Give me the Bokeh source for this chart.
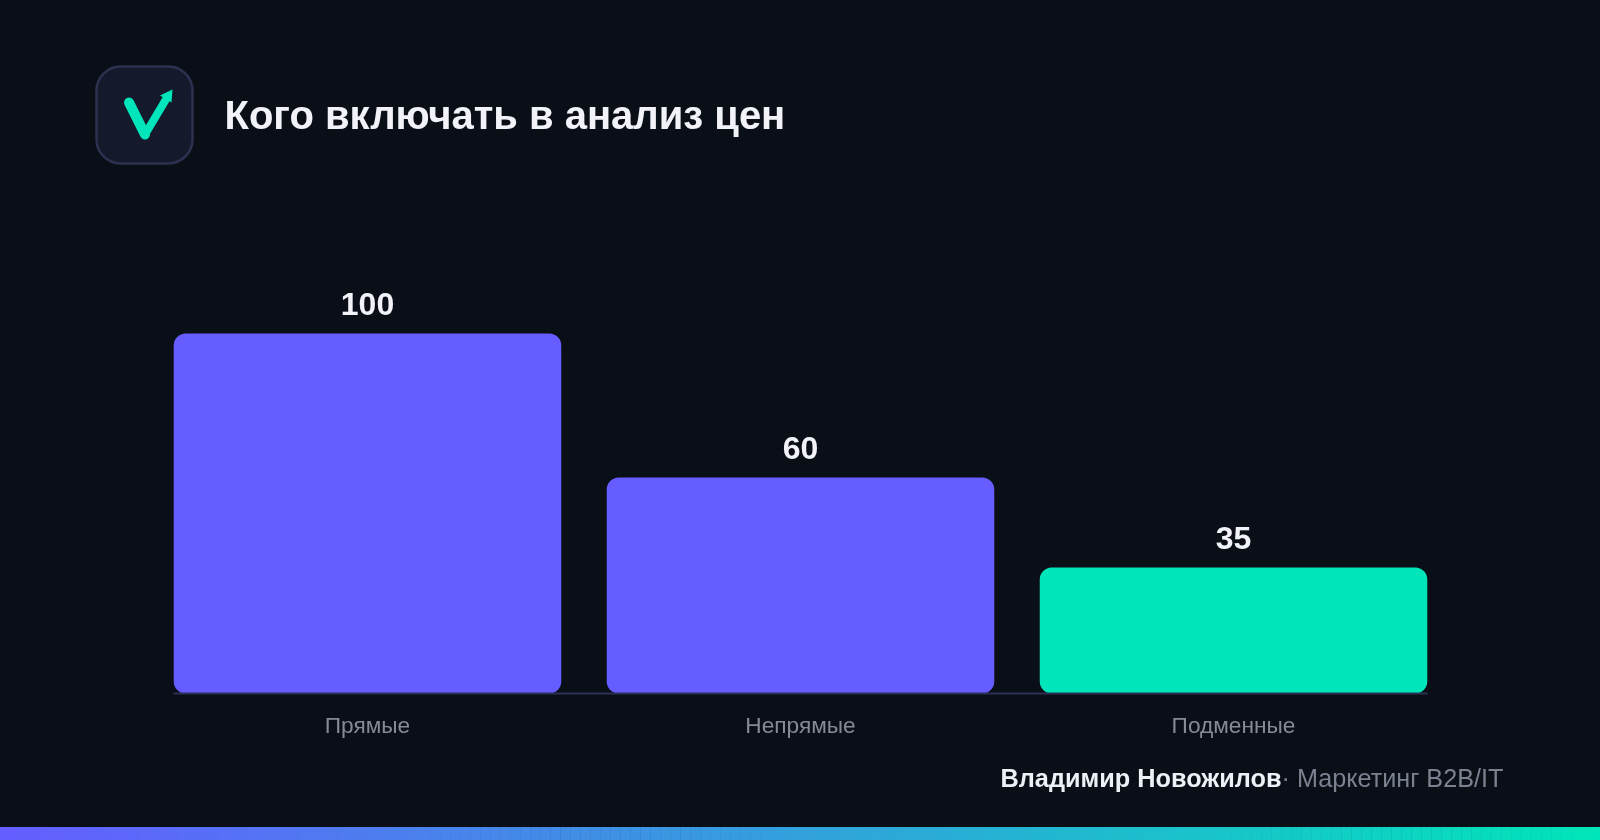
from bokeh.plotting import figure
from bokeh.models import ColumnDataSource, FixedTicker, Range1d
from bokeh.core.properties import value
from bokeh.embed import file_html
from bokeh.resources import INLINE

categories = ["Прямые", "Непрямые", "Подменные"]
values = [100, 60, 35]
bar_colors = ["#655DFF", "#655DFF", "#00E5B9"]
title_text = "Кого включать в анализ цен"
author = "Владимир Новожилов"
role = "· Маркетинг B2B/IT"

BG = "#0A0E17"
FONT = "Liberation Sans"
W, H = 1600, 840
PAD = 1  # the canvas overhangs the window by this much on every side
LEFT, RIGHT, BASE = 173, 1427, 693
positions = list(range(len(categories)))
PX_X = (RIGHT - LEFT) / 2.896   # pixels per category step
PX_Y = 3.6                      # pixels per value unit

p = figure(width=W + 2 * PAD, height=H + 2 * PAD,
           x_range=Range1d(-0.448 - (LEFT + PAD) / PX_X, 2.448 + (W - RIGHT + PAD) / PX_X),
           y_range=Range1d(-(H - BASE + PAD) / PX_Y, (BASE + PAD) / PX_Y),
           output_backend="svg", toolbar_location=None,
           min_border=0, min_border_left=0, min_border_right=0, min_border_top=0, min_border_bottom=0)
p.extra_x_ranges["px"] = Range1d(-PAD, W + PAD)
p.extra_y_ranges["px"] = Range1d(H + PAD, -PAD)
p.styles = {"position": "fixed", "left": f"{-PAD}px", "top": f"{-PAD}px"}
p.background_fill_color = BG
p.border_fill_color = BG
p.outline_line_color = None
p.xgrid.visible = False
p.ygrid.visible = False
p.yaxis.visible = False

ax = p.xaxis[0]
ax.fixed_location = 0
ax.bounds = (-0.448, 2.448)
ax.ticker = FixedTicker(ticks=positions)
ax.major_label_overrides = dict(zip(positions, categories))
ax.axis_line_color = "#2C3155"
ax.axis_line_width = 2
ax.major_tick_line_color = None
ax.minor_tick_line_color = None
ax.major_label_text_color = "#858A97"
ax.major_label_text_font = FONT
ax.major_label_text_font_size = "22.7px"
ax.major_label_standoff = 12

src = ColumnDataSource(dict(pos=positions, val=values, color=bar_colors, lab=[str(v) for v in values]))
p.vbar(x="pos", top="val", bottom=0, width=0.895, source=src, fill_color="color",
       line_color=None, border_radius=12)
p.text(x="pos", y="val", text="lab", source=src, text_align="center", text_baseline="alphabetic",
       y_offset=-30, text_color="#F1F3F9", text_font=value(FONT), text_font_style="bold",
       text_font_size="32px")


def lab(x, y, text, size, color, bold=False):
    p.text(x=[x], y=[y], text=[text], x_range_name="px", y_range_name="px",
           text_font=value(FONT), text_font_size=size, text_color=color,
           text_font_style="bold" if bold else "normal",
           text_align="left", text_baseline="middle")


lab(224, 114, title_text, "40px", "#F1F3F9", bold=True)
lab(1000, 777, author, "25.3px", "#EEF0F7", bold=True)
lab(1281, 777, role, "25.2px", "#7C8190")

# logo
p.quad(left=[96], right=[192], top=[66], bottom=[163], x_range_name="px", y_range_name="px",
       fill_color="#141A2C", line_color="#2D3150", line_width=2.5, border_radius=24)
TEAL = "#00E5B9"
p.line(x=[128.5, 144.5], y=[102, 134], x_range_name="px", y_range_name="px",
       line_color=TEAL, line_width=10, line_cap="round")
p.line(x=[144.5, 166], y=[134, 98], x_range_name="px", y_range_name="px",
       line_color=TEAL, line_width=8, line_cap="round")
p.patch(x=[159.5, 172, 171], y=[95, 89, 102], x_range_name="px", y_range_name="px",
        fill_color=TEAL, line_color=None)

# gradient strip
N = 160
c0, c1 = (0x65, 0x5D, 0xFF), (0x00, 0xE5, 0xB9)
grad_l = [-PAD + i * (W + 2 * PAD) / N for i in range(N)]
grad_r = [-PAD + (i + 1) * (W + 2 * PAD) / N + 0.5 for i in range(N)]
grad_c = []
for i in range(N):
    t = (i + 0.5) / N
    grad_c.append("#%02x%02x%02x" % tuple(round(c0[k] + (c1[k] - c0[k]) * t) for k in range(3)))
p.quad(left=grad_l, right=grad_r, top=[826.5] * N, bottom=[H + PAD] * N, x_range_name="px", y_range_name="px",
       fill_color=grad_c, line_color=None)

open("out.html", "w").write(file_html(p, INLINE))
